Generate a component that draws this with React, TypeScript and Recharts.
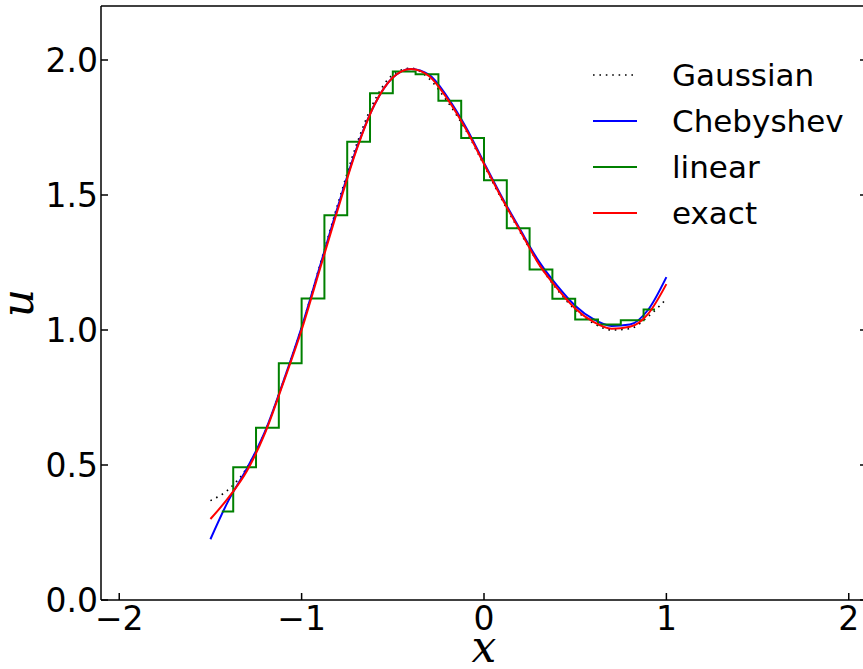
import { LineChart, Line, XAxis, YAxis, Legend } from 'recharts'

// sample positions of the smooth curves
const xs = [
  -1.5, -1.4, -1.3, -1.2, -1.1, -1.0, -0.9, -0.8, -0.7, -0.6, -0.5, -0.4, -0.3,
  -0.2, -0.1, 0.0, 0.1, 0.2, 0.3, 0.4, 0.5, 0.6, 0.7, 0.8, 0.9, 1.0,
]
const gaussian = [
  0.368, 0.41, 0.49, 0.625, 0.81, 1.01, 1.24, 1.47, 1.685, 1.85, 1.945, 1.97, 1.93,
  1.845, 1.74, 1.61, 1.48, 1.36, 1.245, 1.15, 1.075, 1.025, 1.0, 1.005, 1.05, 1.115,
]
const chebyshev = [
  0.225, 0.37, 0.487, 0.625, 0.81, 1.01, 1.235, 1.46, 1.67, 1.835, 1.935, 1.967, 1.945,
  1.862, 1.752, 1.62, 1.49, 1.37, 1.255, 1.165, 1.09, 1.04, 1.015, 1.02, 1.075, 1.196,
]
const exact = [
  0.3, 0.38, 0.478, 0.619, 0.805, 1.0, 1.225, 1.45, 1.665, 1.835, 1.935, 1.967, 1.94,
  1.855, 1.745, 1.615, 1.485, 1.365, 1.245, 1.155, 1.08, 1.03, 1.005, 1.012, 1.06, 1.17,
]

// piecewise-constant approximation, one value per cell centre
const cellXs = [
  -1.4375, -1.3125, -1.1875, -1.0625, -0.9375, -0.8125, -0.6875, -0.5625, -0.4375, -0.3125,
  -0.1875, -0.0625, 0.0625, 0.1875, 0.3125, 0.4375, 0.5625, 0.6875, 0.8125, 0.9375,
]
const linear = [
  0.328, 0.492, 0.638, 0.877, 1.117, 1.425, 1.697, 1.877, 1.957, 1.947,
  1.849, 1.711, 1.555, 1.377, 1.224, 1.116, 1.039, 1.02, 1.036, 1.076,
]

const legendOrder = ['Gaussian', 'Chebyshev', 'linear', 'exact']
const xTicks = [-2, -1, 0, 1, 2]
const yTicks = [0, 0.5, 1, 1.5, 2]

const toPoints = (x: number[], y: number[]) => x.map((v, i) => ({ x: v, y: y[i] }))

const tickFont = { fill: '#000', fontSize: 33, fontFamily: 'DejaVu Sans' }
const mathFamily = 'DejaVu Serif'
const noTick = () => <g />
const fmtX = (v: number) => (v < 0 ? `\u2212${Math.abs(v)}` : `${v}`)

function LegendBox({ payload }: any) {
  const items = (payload || [])
    .filter((p: any) => legendOrder.includes(p.value))
    .sort((a: any, b: any) => legendOrder.indexOf(a.value) - legendOrder.indexOf(b.value))
  return (
    <svg width={270} height={190}>
      {items.map((p: any, i: number) => {
        const cy = 23 + i * 46
        const dotted = p.value === 'Gaussian'
        return (
          <g key={p.value}>
            <line
              x1={3}
              x2={47}
              y1={cy}
              y2={cy}
              stroke={p.color}
              strokeWidth={dotted ? 1.6 : 2}
              strokeDasharray={dotted ? '1.6 4.8' : undefined}
            />
            <text x={82} y={cy + 11} fontSize={31} fontFamily="DejaVu Sans" fill="#000">
              {p.value}
            </text>
          </g>
        )
      })}
    </svg>
  )
}

export default function App() {
  return (
    <div style={{ position: 'absolute', left: 0, top: 0, width: 863, height: 669, overflow: 'hidden', background: '#fff' }}>
      <LineChart width={872} height={669} margin={{ top: 5, right: 4, bottom: 9, left: 41 }}>
        <XAxis
          dataKey="x"
          type="number"
          domain={[-2.1, 2.1]}
          ticks={xTicks}
          tickFormatter={fmtX}
          tick={tickFont}
          tickSize={-7}
          tickMargin={14}
          height={60}
          stroke="#000"
          strokeWidth={1.5}
          allowDataOverflow
          label={({ viewBox }: any) => (
            <text
              x={viewBox.x + viewBox.width / 2}
              y={viewBox.y + 62}
              textAnchor="middle"
              fontSize={44}
              fontFamily={mathFamily}
              fontStyle="italic"
              fill="#000"
            >
              x
            </text>
          )}
        />
        <XAxis
          xAxisId="top"
          orientation="top"
          type="number"
          domain={[-2.1, 2.1]}
          ticks={xTicks}
          tick={noTick}
          tickSize={-7}
          height={1}
          stroke="#000"
          strokeWidth={1.5}
          allowDataOverflow
        />
        <YAxis
          type="number"
          domain={[0, 2.2]}
          ticks={yTicks}
          tickFormatter={(v: number) => v.toFixed(1)}
          tick={tickFont}
          tickSize={-7}
          tickMargin={10}
          width={60}
          stroke="#000"
          strokeWidth={1.5}
          allowDataOverflow
          label={({ viewBox }: any) => {
            const cx = viewBox.x - 8
            const cy = viewBox.y + viewBox.height / 2
            return (
              <text
                x={cx}
                y={cy}
                transform={`rotate(-90 ${cx} ${cy})`}
                textAnchor="middle"
                fontSize={44}
                fontFamily={mathFamily}
                fontStyle="italic"
                fill="#000"
              >
                u
              </text>
            )
          }}
        />
        <YAxis
          yAxisId="right"
          orientation="right"
          type="number"
          domain={[0, 2.2]}
          ticks={yTicks}
          tick={noTick}
          tickSize={-7}
          width={1}
          stroke="#000"
          strokeWidth={1.5}
          allowDataOverflow
        />
        <Legend
          layout="vertical"
          align="center"
          verticalAlign="middle"
          content={<LegendBox />}
          wrapperStyle={{ top: 52, left: 590, width: 270, height: 190 }}
        />
        <Line
          data={toPoints(xs, gaussian)}
          dataKey="y"
          name="Gaussian"
          type="monotone"
          stroke="#000"
          strokeWidth={1.6}
          strokeDasharray="1.6 4.8"
          dot={false}
          isAnimationActive={false}
        />
        <Line
          data={toPoints(xs, chebyshev)}
          dataKey="y"
          name="Chebyshev"
          type="monotone"
          stroke="#0000ff"
          strokeWidth={2}
          dot={false}
          isAnimationActive={false}
        />
        <Line
          data={toPoints(cellXs, linear)}
          dataKey="y"
          name="linear"
          type="step"
          stroke="#008000"
          strokeWidth={2}
          dot={false}
          isAnimationActive={false}
        />
        <Line
          data={toPoints(xs, exact)}
          dataKey="y"
          name="exact"
          type="monotone"
          stroke="#ff0000"
          strokeWidth={2}
          dot={false}
          isAnimationActive={false}
        />
      </LineChart>
    </div>
  )
}
